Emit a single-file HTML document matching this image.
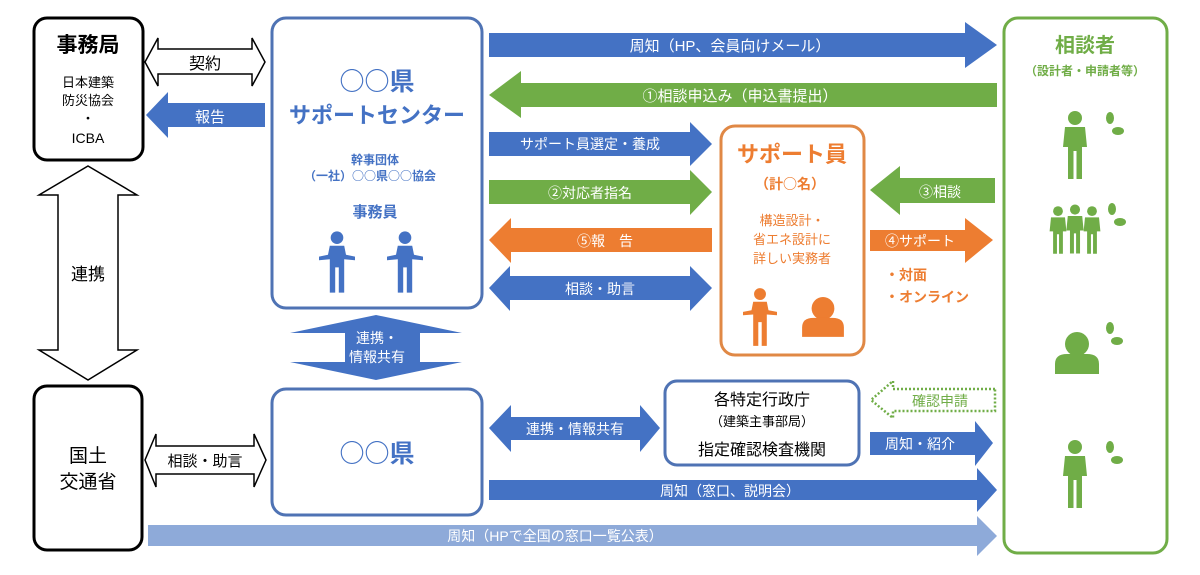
<!DOCTYPE html>
<html><head><meta charset="utf-8"><style>
body{margin:0;background:#fff}
svg text{font-family:"Liberation Sans","Noto Sans CJK JP",sans-serif}
svg text.j{font-family:"Noto Sans CJK JP",sans-serif}
</style></head><body>
<svg width="1200" height="570" viewBox="0 0 1200 570" xmlns="http://www.w3.org/2000/svg">
<defs>
<g id="p">
<circle cx="0" cy="-27" r="7"/>
<path d="M-10,-18 H10 L12,2 H7 V34 H1.5 V6 H-1.5 V34 H-7 V2 H-12 Z"/>
</g>
<g id="pa">
<circle cx="0" cy="-27" r="7"/>
<path d="M-8,-18 H8 L10,-8 L20,-6 V-2 L8,-3 V34 H2 V6 H-2 V34 H-8 V-3 L-20,-2 V-6 L-10,-8 Z"/>
</g>
<g id="hs">
<circle cx="0" cy="-8" r="12"/>
<path d="M-22,22 V12 Q-22,2 -10,2 H10 Q22,2 22,12 V22 Z"/>
<path d="M-13,-10 Q-12,-24 2,-23 Q14,-22 13,-8" fill="none" stroke="#fff" stroke-width="2"/>
</g>
</defs>

<!-- 事務局 -->
<rect x="34" y="18" width="109" height="142" rx="13" fill="#fff" stroke="#000" stroke-width="3"/>
<text x="88" y="52" font-size="21" text-anchor="middle" font-weight="bold">事務局</text>
<text x="88" y="87" font-size="13" text-anchor="middle">日本建築</text>
<text x="88" y="105" font-size="13" text-anchor="middle">防災協会</text>
<text x="88" y="123" font-size="13" text-anchor="middle">・</text>
<text x="88" y="143" font-size="14" text-anchor="middle">ICBA</text>

<polygon points="145,62 158,38 158,49 252,49 252,38 265,62 252,86 252,74 158,74 158,86" fill="#fff" stroke="#000" stroke-width="1.5"/>
<text x="205" y="69" font-size="16" text-anchor="middle">契約</text>
<polygon points="146,115 168,92 168,103 265,103 265,127 168,127 168,138" fill="#4472c4"/>
<text x="210" y="122" font-size="15" text-anchor="middle" fill="#fff">報告</text>

<polygon points="88,166 137,195 118,195 118,350 137,350 88,380 39,350 58,350 58,195 39,195" fill="#fff" stroke="#000" stroke-width="1.5"/>
<text x="88" y="280" font-size="17" text-anchor="middle">連携</text>

<rect x="34" y="386" width="108" height="164" rx="13" fill="#fff" stroke="#000" stroke-width="3"/>
<text x="88" y="462" font-size="19" text-anchor="middle">国土</text>
<text x="88" y="488" font-size="19" text-anchor="middle">交通省</text>

<polygon points="145,460 156,434 156,446 254,446 254,434 266,460 254,487 254,474 156,474 156,487" fill="#fff" stroke="#000" stroke-width="1.5"/>
<text x="205" y="466" font-size="15" text-anchor="middle">相談・助言</text>

<!-- サポートセンター -->
<rect x="272" y="18" width="210" height="290" rx="14" fill="#fff" stroke="#4f73b4" stroke-width="3"/>
<text class="j" x="377" y="90" font-size="25" text-anchor="middle" font-weight="bold" fill="#4472c4">○○県</text>
<text x="377" y="123" font-size="22" text-anchor="middle" font-weight="bold" fill="#4472c4">サポートセンター</text>
<text x="375" y="164" font-size="12" text-anchor="middle" font-weight="bold" fill="#4472c4">幹事団体</text>
<text class="j" x="370" y="180" font-size="12" text-anchor="middle" font-weight="bold" fill="#4472c4">（一社）○○県○○協会</text>
<text x="375" y="217" font-size="15" text-anchor="middle" font-weight="bold" fill="#4472c4">事務員</text>
<g fill="#4472c4">
<use href="#pa" transform="translate(337,262) scale(0.9)"/>
<use href="#pa" transform="translate(405,262) scale(0.9)"/>
</g>

<polygon points="376,315 462,333 420,333 420,362 462,362 376,380 290,362 345,362 345,333 290,333" fill="#4472c4"/>
<text x="377" y="343" font-size="14" text-anchor="middle" fill="#fff">連携・</text>
<text x="377" y="362" font-size="14" text-anchor="middle" fill="#fff">情報共有</text>

<rect x="272" y="389" width="210" height="126" rx="14" fill="#fff" stroke="#4f73b4" stroke-width="3"/>
<text class="j" x="377" y="462" font-size="25" text-anchor="middle" fill="#4472c4" font-weight="bold">○○県</text>

<!-- arrows -->
<polygon points="489,33 965,33 965,22 997,45 965,68 965,57 489,57" fill="#4472c4"/>
<text x="730" y="51" font-size="15" text-anchor="middle" fill="#fff">周知（HP、会員向けメール）</text>
<polygon points="997,83 521,83 521,71 489,95 521,118 521,107 997,107" fill="#70ad47"/>
<text x="740" y="101" font-size="15" text-anchor="middle" fill="#fff">①相談申込み（申込書提出）</text>
<polygon points="489,132 690,132 690,122 712,144 690,166 690,156 489,156" fill="#4472c4"/>
<text x="590" y="149" font-size="14" text-anchor="middle" fill="#fff">サポート員選定・養成</text>
<polygon points="489,180 690,180 690,170 712,192 690,215 690,204 489,204" fill="#70ad47"/>
<text x="590" y="198" font-size="14" text-anchor="middle" fill="#fff">②対応者指名</text>
<polygon points="712,228 511,228 511,218 489,240 511,263 511,252 712,252" fill="#ed7d31"/>
<text x="605" y="246" font-size="14" text-anchor="middle" fill="#fff">⑤報　告</text>
<polygon points="489,288 510,266 510,276 690,276 690,266 712,288 690,311 690,300 510,300 510,311" fill="#4472c4"/>
<text x="600" y="294" font-size="14" text-anchor="middle" fill="#fff">相談・助言</text>

<!-- サポート員 -->
<rect x="721" y="126" width="143" height="229" rx="14" fill="#fff" stroke="#e08845" stroke-width="3"/>
<text x="792" y="162" font-size="22" text-anchor="middle" font-weight="bold" fill="#ed7d31">サポート員</text>
<text class="j" x="790" y="189" font-size="14" text-anchor="middle" font-weight="bold" fill="#ed7d31">（計○名）</text>
<text x="792" y="225" font-size="13" text-anchor="middle" fill="#ed7d31">構造設計・</text>
<text x="792" y="244" font-size="13" text-anchor="middle" fill="#ed7d31">省エネ設計に</text>
<text x="792" y="263" font-size="13" text-anchor="middle" fill="#ed7d31">詳しい実務者</text>
<g fill="#ed7d31">
<use href="#pa" transform="translate(760,317) scale(0.85)"/>
<use href="#hs" transform="translate(823,316) scale(0.95)"/>
</g>

<polygon points="995,178 900,178 900,166 870,190 900,215 900,203 995,203" fill="#70ad47"/>
<text x="940" y="197" font-size="14" text-anchor="middle" fill="#fff">③相談</text>
<polygon points="870,230 965,230 965,218 993,240 965,263 965,251 870,251" fill="#ed7d31"/>
<text x="920" y="246" font-size="14" text-anchor="middle" fill="#fff">④サポート</text>
<text x="885" y="280" font-size="14" font-weight="bold" fill="#ed7d31">・対面</text>
<text x="885" y="302" font-size="14" font-weight="bold" fill="#ed7d31">・オンライン</text>

<rect x="665" y="381" width="194" height="84" rx="12" fill="#fff" stroke="#4f73b4" stroke-width="3"/>
<text x="762" y="405" font-size="16" text-anchor="middle">各特定行政庁</text>
<text x="762" y="426" font-size="13" text-anchor="middle">（建築主事部局）</text>
<text x="762" y="455" font-size="16" text-anchor="middle">指定確認検査機関</text>

<polygon points="489,428 511,405 511,417 640,417 640,405 660,428 640,452 640,440 511,440 511,452" fill="#4472c4"/>
<text x="575" y="434" font-size="14" text-anchor="middle" fill="#fff">連携・情報共有</text>
<polygon points="995,389 893,389 893,381 871,400 893,418 893,411 995,411" fill="none" stroke="#70ad47" stroke-width="2.5" stroke-dasharray="2,2"/>
<text x="940" y="406" font-size="14" text-anchor="middle" fill="#70ad47">確認申請</text>
<polygon points="870,432 975,432 975,421 993,443 975,466 975,455 870,455" fill="#4472c4"/>
<text x="920" y="449" font-size="14" text-anchor="middle" fill="#fff">周知・紹介</text>
<polygon points="489,480 977,480 977,468 997,490 977,512 977,500 489,500" fill="#4472c4"/>
<text x="730" y="496" font-size="14" text-anchor="middle" fill="#fff">周知（窓口、説明会）</text>
<polygon points="148,525 977,525 977,516 997,536 977,556 977,546 148,546" fill="#8eaad9"/>
<text x="555" y="541" font-size="14" text-anchor="middle" fill="#fff">周知（HPで全国の窓口一覧公表）</text>

<!-- 相談者 -->
<rect x="1004" y="18" width="163" height="535" rx="14" fill="#fff" stroke="#70ad47" stroke-width="3"/>
<text x="1085" y="52" font-size="20" text-anchor="middle" font-weight="bold" fill="#70ad47">相談者</text>
<text x="1085" y="75" font-size="12" text-anchor="middle" font-weight="bold" fill="#70ad47">（設計者・申請者等）</text>
<g fill="#70ad47">
<use href="#p" transform="translate(1075,145)"/>
<ellipse cx="1110" cy="118" rx="4" ry="6"/><ellipse cx="1118" cy="131" rx="6" ry="4"/>
<use href="#p" transform="translate(1058,230) scale(0.7)"/>
<use href="#p" transform="translate(1092,230) scale(0.7)"/>
<use href="#p" transform="translate(1075,229) scale(0.72)"/>
<ellipse cx="1112" cy="209" rx="4" ry="6"/><ellipse cx="1120" cy="222" rx="6" ry="4"/>
<use href="#hs" transform="translate(1077,352)"/>
<ellipse cx="1110" cy="328" rx="4" ry="6"/><ellipse cx="1117" cy="341" rx="6" ry="4"/>
<use href="#p" transform="translate(1075,474)"/>
<ellipse cx="1110" cy="447" rx="4" ry="6"/><ellipse cx="1117" cy="460" rx="6" ry="4"/>
</g>
</svg>
</body></html>
